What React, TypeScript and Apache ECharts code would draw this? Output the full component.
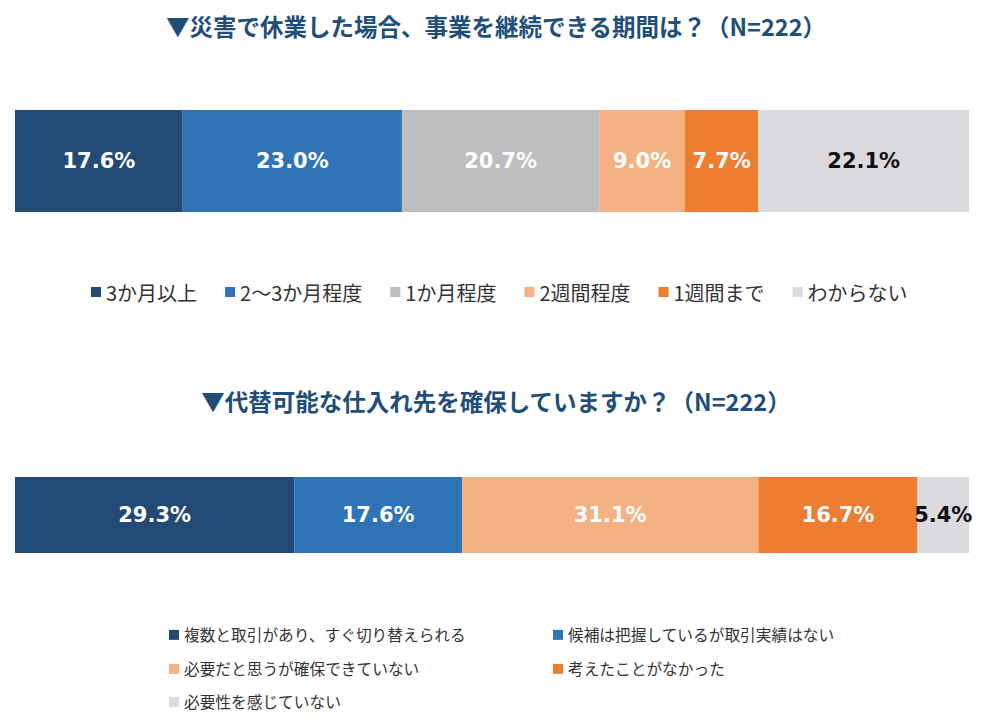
import { useEffect, useRef } from "react";
import * as echarts from "echarts";

const title1 = "▼災害で休業した場合、事業を継続できる期間は？（N=222）";
const names1 = ["3か月以上", "2～3か月程度", "1か月程度", "2週間程度", "1週間まで", "わからない"];
const values1 = [17.6, 23.0, 20.7, 9.0, 7.7, 22.1];
const colors1 = ["#234a74", "#2e74b6", "#bebdbf", "#f4b183", "#ed7d31", "#dcdadf"];
const labelColors1 = ["#fff", "#fff", "#fff", "#fff", "#fff", "#111"];

const title2 = "▼代替可能な仕入れ先を確保していますか？（N=222）";
const names2 = [
  "複数と取引があり、すぐ切り替えられる",
  "候補は把握しているが取引実績はない",
  "必要だと思うが確保できていない",
  "考えたことがなかった",
  "必要性を感じていない",
];
const values2 = [29.3, 17.6, 31.1, 16.7, 5.4];
const colors2 = ["#234a74", "#2e74b6", "#f4b183", "#ed7d31", "#dcdadf"];
const labelColors2 = ["#fff", "#fff", "#fff", "#fff", "#111"];

// legend slots of the lower chart: [left, top]
const legend2Pos: [number, number][] = [
  [164, 622],
  [548, 622],
  [164, 656],
  [548, 656],
  [164, 689],
];

const CJK = '"Noto Sans CJK JP", sans-serif';

export default function App() {
  const ref = useRef<HTMLDivElement | null>(null);

  useEffect(() => {
    if (!ref.current) return;
    const chart = echarts.init(ref.current, undefined, { renderer: "svg" });
    const total1 = values1.reduce((a, b) => a + b, 0);
    const total2 = values2.reduce((a, b) => a + b, 0);

    const makeSeries = (
      names: string[],
      values: number[],
      colors: string[],
      labelColors: string[],
      axis: number,
    ) =>
      names.map((name, i) => ({
        name,
        type: "bar",
        stack: "s" + axis,
        xAxisIndex: axis,
        yAxisIndex: axis,
        barWidth: "100%",
        itemStyle: { color: colors[i] },
        label: {
          show: true,
          position: "inside",
          formatter: (p: any) => p.value.toFixed(1) + "%",
          color: labelColors[i],
          fontFamily: '"DejaVu Sans", sans-serif',
          fontWeight: "bold",
          fontSize: 21,
        },
        data: [values[i]],
      }));

    chart.setOption({
      animation: false,
      title: [
        {
          text: title1,
          left: "center",
          top: 9,
          textStyle: { color: "#1f4e79", fontSize: 23.5, fontWeight: "bold", fontFamily: CJK },
        },
        {
          text: title2,
          left: "center",
          top: 384,
          textStyle: { color: "#1f4e79", fontSize: 23.5, fontWeight: "bold", fontFamily: CJK },
        },
      ],
      legend: [
        {
          data: names1,
          left: 86,
          top: 277,
          icon: "rect",
          itemWidth: 10,
          itemHeight: 10,
          itemGap: 28,
          selectedMode: false,
          textStyle: { color: "#333", fontSize: 20, fontFamily: CJK },
        },
        ...names2.map((n, i) => ({
          data: [n],
          left: legend2Pos[i][0],
          top: legend2Pos[i][1],
          icon: "rect",
          itemWidth: 10,
          itemHeight: 10,
          selectedMode: false,
          textStyle: { color: "#333", fontSize: 15.7, fontFamily: CJK },
        })),
      ],
      grid: [
        { left: 15, right: 23, top: 110, height: 102 },
        { left: 15, right: 23, top: 477, height: 76 },
      ],
      xAxis: [
        { type: "value", gridIndex: 0, min: 0, max: total1, show: false },
        { type: "value", gridIndex: 1, min: 0, max: total2, show: false },
      ],
      yAxis: [
        { type: "category", gridIndex: 0, data: [""], show: false },
        { type: "category", gridIndex: 1, data: [""], show: false },
      ],
      series: [
        ...makeSeries(names1, values1, colors1, labelColors1, 0),
        ...makeSeries(names2, values2, colors2, labelColors2, 1),
      ],
    });

    return () => chart.dispose();
  }, []);

  return (
    <div
      ref={ref}
      style={{ position: "absolute", left: 0, top: 0, width: 992, height: 726, background: "#fff" }}
    />
  );
}
